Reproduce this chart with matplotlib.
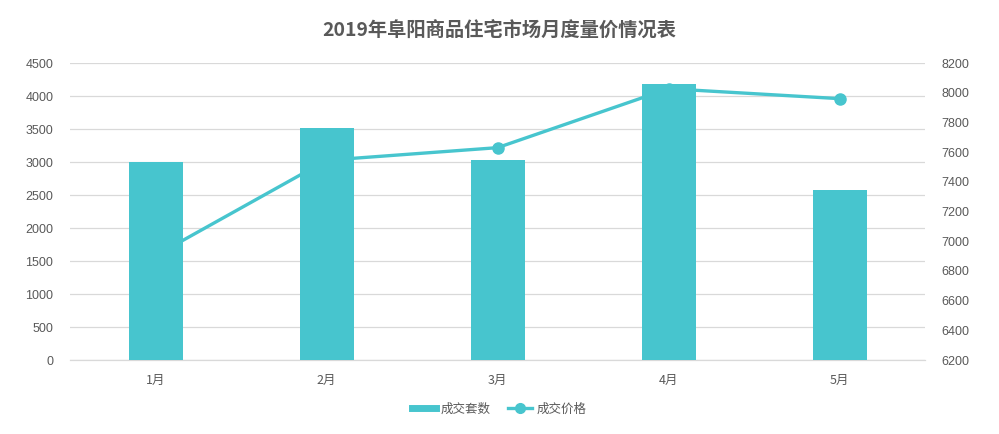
import matplotlib
matplotlib.use("Agg")
import matplotlib.pyplot as plt
from matplotlib.lines import Line2D

plt.rcParams['font.family'] = ['Noto Sans CJK SC', 'DejaVu Sans']

title = "2019年阜阳商品住宅市场月度量价情况表"
months = ["1月", "2月", "3月", "4月", "5月"]
volume = [2995, 3520, 3030, 4180, 2578]
price = [6903, 7545, 7630, 8027, 7960]
left_ticks = [0, 500, 1000, 1500, 2000, 2500, 3000, 3500, 4000, 4500]
right_ticks = [6200, 6400, 6600, 6800, 7000, 7200, 7400, 7600, 7800, 8000, 8200]
series_names = ["成交套数", "成交价格"]

color = "#47c5ce"
text_color = "#595959"
grid_color = "#d9d9d9"

fig = plt.figure(figsize=(9.99, 4.34), dpi=100)
ax = fig.add_axes([0.0701, 0.1705, 0.8559, 0.6843])
ax_line = ax.twinx()
ax_bar = ax.twinx()

x = list(range(len(months)))

# grid axis (left ticks)
ax.set_ylim(left_ticks[0], left_ticks[-1])
ax.set_yticks(left_ticks)
ax.yaxis.grid(True, color=grid_color, linewidth=0.9)
ax.set_xlim(-0.5, len(months) - 0.5)
ax.set_xticks(x)
ax.set_xticklabels(months, color=text_color, fontsize=9)
for lab in ax.get_yticklabels():
    lab.set_fontfamily('Liberation Sans')
ax.tick_params(axis='y', colors=text_color, labelsize=9, length=0, pad=12)
ax.tick_params(axis='x', length=0, pad=10)
for s in ['top', 'left', 'right']:
    ax.spines[s].set_visible(False)
ax.spines['bottom'].set_color(grid_color)
ax.spines['bottom'].set_linewidth(0.9)

# line axis (right ticks)
ax_line.set_ylim(right_ticks[0], right_ticks[-1])
ax_line.set_yticks(right_ticks)
ax_line.plot(x, price, color=color, linewidth=2.4, marker='o', markersize=8)
ax_line.tick_params(axis='y', colors=text_color, labelsize=9, length=0, pad=12)
for lab in ax_line.get_yticklabels():
    lab.set_fontfamily('Liberation Sans')
for s in ax_line.spines.values():
    s.set_visible(False)

# bar axis (shares left scale)
ax_bar.set_ylim(left_ticks[0], left_ticks[-1])
ax_bar.bar(x, volume, width=0.316, color=color)
ax_bar.set_yticks([])
for s in ax_bar.spines.values():
    s.set_visible(False)

ax.set_zorder(1)
ax_line.set_zorder(2)
ax_bar.set_zorder(3)
ax_line.patch.set_visible(False)
ax_bar.patch.set_visible(False)

fig.text(0.5, 0.928, title, ha='center', va='center', fontsize=13.9,
         fontweight='bold', color=text_color)

handles = [Line2D([], [], color=color, linewidth=5),
           Line2D([], [], color=color, linewidth=2.4, marker='o', markersize=7)]
fig.legend(handles, series_names, loc='center', bbox_to_anchor=(0.5, 0.058),
           ncol=2, frameon=False, fontsize=9, labelcolor=text_color,
           handlelength=1.9, columnspacing=1.4, handletextpad=0.4)

fig.savefig("out.png", dpi=100)
